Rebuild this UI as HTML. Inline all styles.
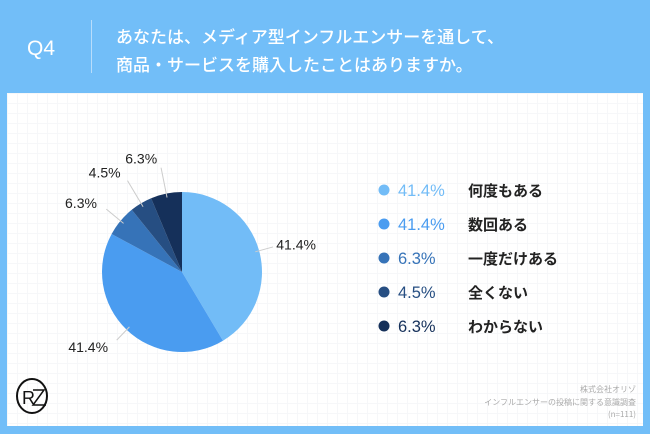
<!DOCTYPE html>
<html><head><meta charset="utf-8"><style>
body{margin:0;width:650px;height:434px;background:#72bef8;font-family:"Liberation Sans","Noto Sans CJK JP",sans-serif;position:relative;overflow:hidden}
.abs{position:absolute}
#panel{left:7px;top:93px;width:636px;height:333px;background:#fff;background-image:linear-gradient(#f6f7f9 1px,transparent 1px),linear-gradient(90deg,#f6f7f9 1px,transparent 1px);background-size:10px 10px}
.q{color:#fff}
</style></head><body>
<div class="abs q" style="left:27px;top:37px;font-size:21px">Q4</div>
<div class="abs" style="left:91px;top:20px;width:1px;height:53px;background:#b8ddfb"></div>
<div class="abs q" style="left:116px;top:22px;font-size:17px;font-weight:500;line-height:28px;font-family:'Noto Sans CJK JP',sans-serif">あなたは、メディア型インフルエンサーを通して、<br>商品・サービスを購入したことはありますか。</div>
<div id="panel" class="abs"></div>
<svg class="abs" style="left:0;top:0" width="650" height="434" id="chart"></svg>
<div class="abs" style="right:14px;top:384px;text-align:right;font-size:8px;line-height:12.5px;color:#aaa;font-family:'Noto Sans CJK JP',sans-serif">株式会社オリゾ<br>インフルエンサーの投稿に関する意識調査<br>(n=111)</div>
<svg class="abs" style="left:16px;top:377px" width="34" height="38">
<ellipse cx="16" cy="19" rx="15" ry="17" fill="none" stroke="#111" stroke-width="2"/>
<text x="6" y="27" font-size="18" font-family="Liberation Sans" fill="#111">R</text>
<path d="M17 13 H28 L17 28 H30" fill="none" stroke="#111" stroke-width="1.5"/>
</svg>
<script>
const categories=["何度もある","数回ある","一度だけある","全くない","わからない"];
const values=[41.4,41.4,6.3,4.5,6.3];
const labels=["41.4%","41.4%","6.3%","4.5%","6.3%"];
const colors=["#72bcf7","#4a9cf0","#3673b8","#264e82","#15305a"];
const NS="http://www.w3.org/2000/svg";
const svg=document.getElementById('chart');
const cx=182,cy=272,r=80;
const total=values.reduce((a,b)=>a+b,0);
function pt(a,rr){return [cx+rr*Math.sin(a),cy-rr*Math.cos(a)];}
let a0=0;
const labelR=[1.3,1.3,1.35,1.45,1.45];
values.forEach((v,i)=>{
 const a1=a0+v/total*2*Math.PI;
 const p0=pt(a0,r),p1=pt(a1,r);
 const path=document.createElementNS(NS,'path');
 path.setAttribute('d',`M${cx},${cy}L${p0[0]},${p0[1]}A${r},${r} 0 ${a1-a0>Math.PI?1:0} 1 ${p1[0]},${p1[1]}Z`);
 path.setAttribute('fill',colors[i]);
 
 
 svg.appendChild(path);
 const m=(a0+a1)/2;
 const q0=pt(m,r*0.95),q1=pt(m,r*(labelR[i]-0.12));
 const ln=document.createElementNS(NS,'line');
 ln.setAttribute('x1',q0[0]);ln.setAttribute('y1',q0[1]);ln.setAttribute('x2',q1[0]);ln.setAttribute('y2',q1[1]);
 ln.setAttribute('stroke','#ccc');ln.setAttribute('stroke-width','1');
 
 
 svg.appendChild(ln);
 const lp=pt(m,r*labelR[i]);
 const t=document.createElementNS(NS,'text');
 t.setAttribute('x',lp[0]+(Math.sin(m)>0?-6:-2));t.setAttribute('y',lp[1]+5);
 t.setAttribute('text-anchor',Math.sin(m)>0.1?'start':(Math.sin(m)<-0.1?'end':'middle'));
 t.setAttribute('font-size','14');t.setAttribute('fill','#222');
 t.textContent=labels[i];
 
 
 svg.appendChild(t);
 const y=190+i*34;
 const c=document.createElementNS(NS,'circle');
 c.setAttribute('cx',384);c.setAttribute('cy',y);c.setAttribute('r',5.5);c.setAttribute('fill',colors[i]);
 
 
 svg.appendChild(c);
 const tp=document.createElementNS(NS,'text');
 tp.setAttribute('x',398);tp.setAttribute('y',y+6);tp.setAttribute('font-size','16.5');tp.setAttribute('fill',colors[i]);
 tp.textContent=labels[i];
 
 
 svg.appendChild(tp);
 const tl=document.createElementNS(NS,'text');
 tl.setAttribute('x',468);tl.setAttribute('y',y+6);tl.setAttribute('font-size','15');tl.setAttribute('font-weight','bold');tl.setAttribute('fill','#222');
 tl.setAttribute('font-family','Noto Sans CJK JP, sans-serif');
 tl.textContent=categories[i];
 
 
 svg.appendChild(tl);
 a0=a1;
});
</script>
</body></html>
